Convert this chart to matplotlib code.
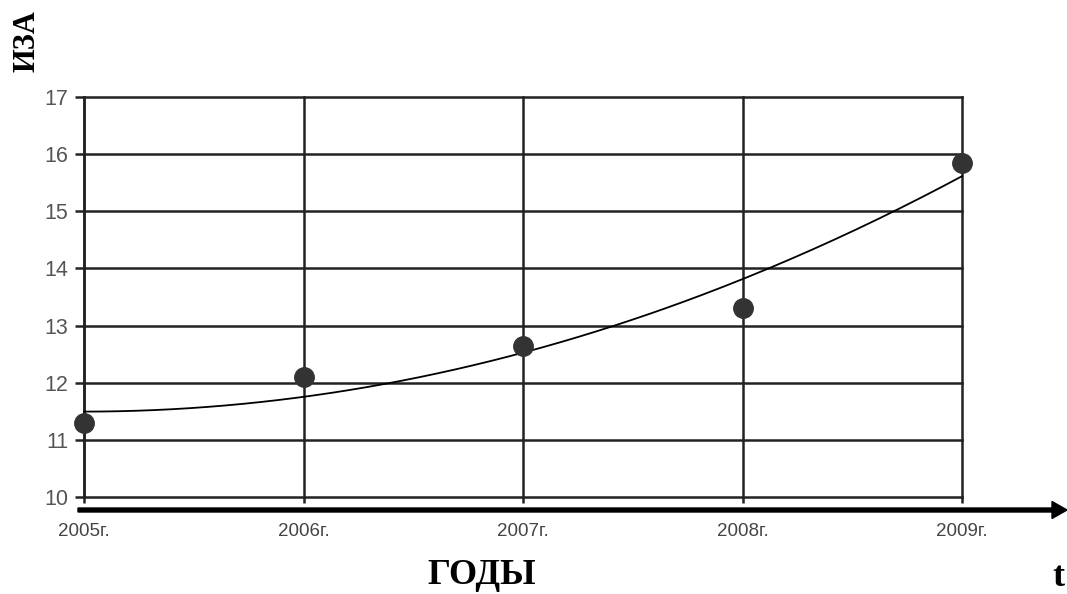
import numpy as np
import matplotlib
matplotlib.use("Agg")
import matplotlib.pyplot as plt

# Data
years = ["2005г.", "2006г.", "2007г.", "2008г.", "2009г."]
iza = [11.3, 12.1, 12.65, 13.3, 15.85]
y_ticks = [10, 11, 12, 13, 14, 15, 16, 17]

fig = plt.figure(figsize=(10.67, 5.94), dpi=100)
ax = fig.add_axes([84/1067, 1-497/594, (962-84)/1067, 400/594])

x = np.arange(len(years))
# quadratic trend line fitted to the data
coef = np.polyfit(x, iza, 2)
xs = np.linspace(0, len(years)-1, 200)
ax.plot(xs, np.polyval(coef, xs), color="black", lw=1.3, zorder=3, clip_on=False)
ax.plot(x, iza, "o", color="#333333", markersize=14, zorder=4, clip_on=False)

ax.set_xlim(0, len(years)-1)
ax.set_ylim(10, 17)
ax.set_yticks(y_ticks)
ax.set_xticks(x)
ax.set_xticklabels(years)
ax.grid(True, color="#222222", lw=1.8)
for gl in ax.get_xgridlines() + ax.get_ygridlines():
    gl.set_clip_on(False)
ax.set_axisbelow(True)
for s in ["top", "right", "bottom"]:
    ax.spines[s].set_visible(False)
ax.spines["left"].set_color("#222222")
ax.spines["left"].set_linewidth(1.8)
ax.tick_params(axis="y", direction="out", length=6.5, width=1.8, color="#222222",
               pad=5, labelsize=15.5, labelcolor="#555555")
ax.tick_params(axis="x", direction="out", length=4.5, width=1.8, color="#222222",
               pad=14, labelsize=13.5, labelcolor="#444444")
for lab in ax.get_xticklabels() + ax.get_yticklabels():
    lab.set_family(["Liberation Sans", "DejaVu Sans"])

# time axis arrow
fig.patches.append(matplotlib.patches.FancyArrow(
    78/1067, 1-510/594, (1052-78)/1067, 0, width=4/594, head_width=17/594,
    head_length=15/1067, length_includes_head=False, color="black",
    transform=fig.transFigure, figure=fig))

serif = ["Liberation Serif", "DejaVu Serif"]
fig.text(482/1067, 1-576/594, "ГОДЫ", family=serif, fontweight="bold", fontsize=26,
         ha="center", va="center")
fig.text(1058/1067, 1-577/594, "t", family=serif, fontweight="bold", fontsize=26,
         ha="center", va="center")
fig.text(27/1067, 1-41/594, "ИЗА", family=serif, fontweight="bold", fontsize=22,
         ha="center", va="center", rotation=90)

fig.savefig("out.png", dpi=100)
